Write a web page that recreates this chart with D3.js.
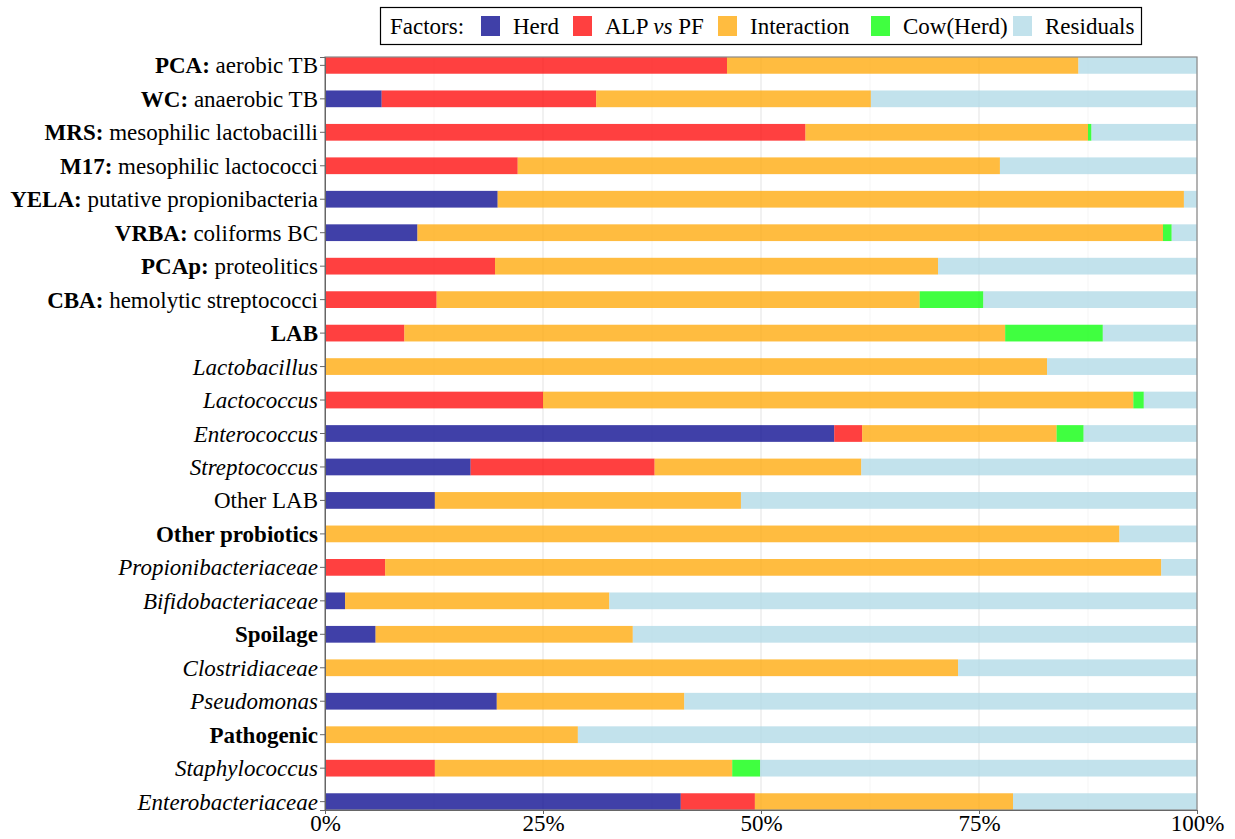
<!DOCTYPE html>
<html>
<head>
<meta charset="utf-8">
<script src="https://cdn.jsdelivr.net/npm/d3@7"></script>
<style>
  body { margin: 0; background: #fff; }
  text { font-family: "Liberation Serif", "Times New Roman", serif; fill: #000; }
</style>
</head>
<body>
<div id="chart"></div>
<script>
// row labels, each as [text, style] pieces (b = bold, i = italic, n = normal)
const categories = [
    [["PCA:", "b"], [" aerobic TB", "n"]],
    [["WC:", "b"], [" anaerobic TB", "n"]],
    [["MRS:", "b"], [" mesophilic lactobacilli", "n"]],
    [["M17:", "b"], [" mesophilic lactococci", "n"]],
    [["YELA:", "b"], [" putative propionibacteria", "n"]],
    [["VRBA:", "b"], [" coliforms BC", "n"]],
    [["PCAp:", "b"], [" proteolitics", "n"]],
    [["CBA:", "b"], [" hemolytic streptococci", "n"]],
    [["LAB", "b"]],
    [["Lactobacillus", "i"]],
    [["Lactococcus", "i"]],
    [["Enterococcus", "i"]],
    [["Streptococcus", "i"]],
    [["Other LAB", "n"]],
    [["Other probiotics", "b"]],
    [["Propionibacteriaceae", "i"]],
    [["Bifidobacteriaceae", "i"]],
    [["Spoilage", "b"]],
    [["Clostridiaceae", "i"]],
    [["Pseudomonas", "i"]],
    [["Pathogenic", "b"]],
    [["Staphylococcus", "i"]],
    [["Enterobacteriaceae", "i"]]
];

// share of variance (%) per factor, same order as categories
const herd        = [0, 6.5, 0, 0, 19.8, 10.6, 0, 0, 0, 0, 0, 58.4, 16.7, 12.6, 0, 0, 2.3, 5.8, 0, 19.7, 0, 0, 40.8];
const alpVsPf     = [46.1, 24.6, 55.1, 22.1, 0, 0, 19.5, 12.8, 9.1, 0, 25.0, 3.2, 21.1, 0, 0, 6.9, 0, 0, 0, 0, 0, 12.6, 8.5];
const interaction = [40.3, 31.5, 32.4, 55.3, 78.7, 85.5, 50.8, 55.4, 68.9, 82.8, 67.7, 22.3, 23.7, 35.1, 91.1, 89.0, 30.3, 29.5, 72.6, 21.5, 29.0, 34.1, 29.6];
const cowHerd     = [0, 0, 0.4, 0, 0, 1.0, 0, 7.3, 11.2, 0, 1.2, 3.1, 0, 0, 0, 0, 0, 0, 0, 0, 0, 3.2, 0];
const residuals   = [13.6, 37.4, 12.1, 22.6, 1.5, 2.9, 29.7, 24.5, 10.8, 17.2, 6.1, 13.0, 38.5, 52.3, 8.9, 4.1, 67.4, 64.7, 27.4, 58.8, 71.0, 50.1, 21.1];

const factorNames = ["Herd", "ALP vs PF", "Interaction", "Cow(Herd)", "Residuals"];
const factorColors = ["#00008b", "#ff0000", "#ffa500", "#00ff00", "#add8e6"];
const xTicks = [0, 25, 50, 75, 100];
const xMinor = [12.5, 37.5, 62.5, 87.5];

const fontSize = 23;
const margin = {top: 57, right: 38, bottom: 29, left: 325};
const width = 1235 - margin.left - margin.right;
const height = 839 - margin.top - margin.bottom;

const svg = d3.select("#chart").append("svg")
    .attr("width", 1235)
    .attr("height", 839);

const g = svg.append("g")
    .attr("transform", `translate(${margin.left}, ${margin.top})`);

// build rows for the stack
const keys = ["herd", "alp", "inter", "cow", "resid"];
const rows = categories.map((c, i) => ({
    idx: i,
    herd: herd[i], alp: alpVsPf[i], inter: interaction[i], cow: cowHerd[i], resid: residuals[i]
}));
const series = d3.stack().keys(keys)(rows);

const x = d3.scaleLinear().domain([0, 100]).range([0, width]);
const y = d3.scaleBand()
    .domain(d3.range(categories.length))
    .range([0, height])
    .paddingInner(0.5)
    .paddingOuter(0);
const color = d3.scaleOrdinal().domain(keys).range(factorColors);

// grid
g.append("g").selectAll("line.minor")
    .data(xMinor)
    .join("line")
    .attr("x1", d => x(d)).attr("x2", d => x(d))
    .attr("y1", 0).attr("y2", height)
    .attr("stroke", "#f2f2f2")
    .attr("stroke-width", 0.8);
g.append("g").selectAll("line.major")
    .data(xTicks)
    .join("line")
    .attr("x1", d => x(d)).attr("x2", d => x(d))
    .attr("y1", 0).attr("y2", height)
    .attr("stroke", "#e3e3e3")
    .attr("stroke-width", 1);

// bars
g.append("g").selectAll("g")
    .data(series)
    .join("g")
    .attr("fill", d => color(d.key))
    .attr("fill-opacity", 0.75)
    .selectAll("rect")
    .data(d => d)
    .join("rect")
    .attr("x", d => x(d[0]))
    .attr("y", d => y(d.data.idx))
    .attr("width", d => Math.max(0, x(d[1]) - x(d[0])))
    .attr("height", y.bandwidth());

// panel border
g.append("rect")
    .attr("width", width)
    .attr("height", height)
    .attr("fill", "none")
    .attr("stroke", "#8a8a8a")
    .attr("stroke-width", 1.2);

// x axis
const xAxis = g.append("g")
    .attr("transform", `translate(0, ${height})`)
    .call(d3.axisBottom(x).tickValues(xTicks).tickFormat(d => d + "%").tickSize(4));
xAxis.select(".domain").attr("stroke", "#666");
xAxis.selectAll(".tick line").attr("stroke", "#666");
xAxis.selectAll("text")
    .attr("font-size", fontSize)
    .attr("font-family", "Liberation Serif")
    .attr("fill", "#000")
    .attr("y", 5);

// y axis
const yAxis = g.append("g")
    .call(d3.axisLeft(y).tickSize(5).tickFormat(""));
yAxis.select(".domain").attr("stroke", "#666");
yAxis.selectAll(".tick line").attr("stroke", "#666");

const labelG = g.append("g");
categories.forEach((parts, i) => {
    const t = labelG.append("text")
        .attr("x", -7)
        .attr("y", y(i) + y.bandwidth() / 2)
        .attr("dy", "0.35em")
        .attr("text-anchor", "end")
        .attr("font-size", fontSize);
    parts.forEach(p => {
        t.append("tspan")
            .text(p[0])
            .attr("font-weight", p[1] === "b" ? "bold" : "normal")
            .attr("font-style", p[1] === "i" ? "italic" : "normal")
            .attr("xml:space", "preserve");
    });
});

// legend
const legend = svg.append("g").attr("class", "legend");
legend.append("rect")
    .attr("x", 380.5).attr("y", 7.5)
    .attr("width", 761).attr("height", 37)
    .attr("fill", "#fff")
    .attr("stroke", "#000")
    .attr("stroke-width", 1.2);
legend.append("text")
    .attr("x", 390).attr("y", 26).attr("dy", "0.35em")
    .attr("font-size", fontSize)
    .text("Factors:");
const legendX = [481, 573, 718, 871, 1013];
factorNames.forEach((name, i) => {
    legend.append("rect")
        .attr("x", legendX[i]).attr("y", 16)
        .attr("width", 19).attr("height", 20)
        .attr("fill", factorColors[i])
        .attr("fill-opacity", 0.75);
    const t = legend.append("text")
        .attr("x", legendX[i] + 32).attr("y", 26).attr("dy", "0.35em")
        .attr("font-size", fontSize);
    if (name === "ALP vs PF") {
        t.append("tspan").text("ALP ");
        t.append("tspan").text("vs").attr("font-style", "italic");
        t.append("tspan").text(" PF");
    } else {
        t.text(name);
    }
});
</script>
</body>
</html>
